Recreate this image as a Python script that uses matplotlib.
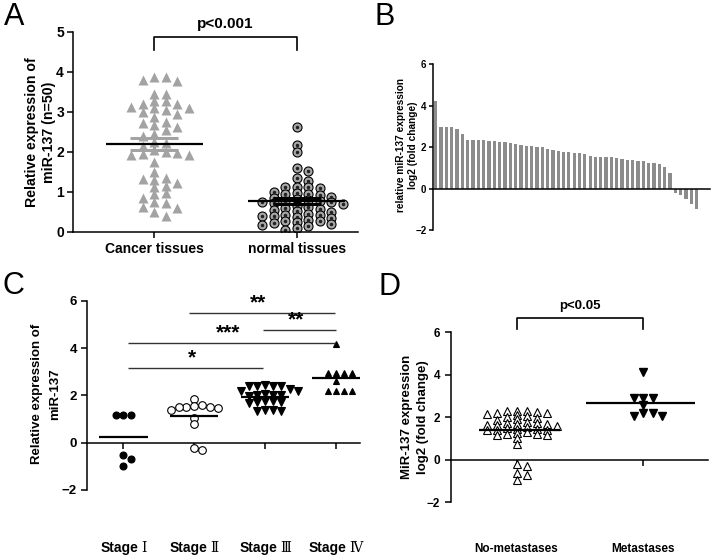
import numpy as np
import matplotlib
matplotlib.use('Agg')
import matplotlib.pyplot as plt
from matplotlib.offsetbox import TextArea, HPacker, AnnotationBbox

plt.rcParams['font.family'] = ['Liberation Sans', 'DejaVu Sans']

# ---------------- data ----------------
# A: relative expression, 50 pairs
cancer = [3.87, 3.87, 3.8, 3.78, 3.45, 3.45, 3.28, 3.27, 3.2, 3.2,
          3.12, 3.1, 3.1, 3.05, 3.0, 2.95, 2.88, 2.75, 2.72, 2.68,
          2.62, 2.55, 2.45, 2.4, 2.25, 2.22, 2.15, 2.05, 2.0, 1.98,
          1.95, 1.93, 1.92, 1.75, 1.5, 1.35, 1.33, 1.3, 1.22, 1.15,
          1.12, 0.97, 0.95, 0.85, 0.75, 0.72, 0.62, 0.6, 0.5, 0.4]
normal = [2.62, 2.17, 2.0, 1.6, 1.53, 1.35, 1.27, 1.13, 1.12, 1.1,
          1.12, 1.0, 0.97, 0.96, 0.95, 0.93, 0.88, 0.85, 0.82, 0.8,
          0.78, 0.78, 0.76, 0.75, 0.72, 0.7, 0.65, 0.62, 0.6, 0.58,
          0.55, 0.52, 0.5, 0.45, 0.42, 0.42, 0.4, 0.4, 0.38, 0.35,
          0.3, 0.28, 0.27, 0.25, 0.22, 0.2, 0.18, 0.15, 0.1, 0.05]
catA = ['Cancer tissues', 'normal tissues']

# B: log2 fold change per patient (sorted)
fold = [4.2, 2.95, 2.95, 2.95, 2.87, 2.62, 2.37, 2.37, 2.37, 2.37,
        2.3, 2.28, 2.25, 2.24, 2.2, 2.17, 2.12, 2.08, 2.08, 2.0,
        2.0, 1.92, 1.88, 1.8, 1.78, 1.75, 1.72, 1.7, 1.67, 1.6,
        1.55, 1.55, 1.55, 1.55, 1.48, 1.42, 1.4, 1.38, 1.35, 1.32,
        1.25, 1.22, 1.2, 1.07, 0.75, -0.18, -0.28, -0.5, -0.72, -0.95]

# C: by stage
stage1 = [1.19, 1.19, 1.19, -0.5, -0.71, -0.97]
stage2 = [1.83, 1.6, 1.55, 1.52, 1.52, 1.52, 1.45, 1.37, 1.06, 0.77, -0.21, -0.33]
stage3 = [2.42, 2.4, 2.4, 2.4, 2.38, 2.25, 2.2, 2.2, 2.05, 2.02, 2.0,
          2.0, 1.98, 1.78, 1.75, 1.72, 1.7, 1.68, 1.38, 1.37, 1.35, 1.33]
stage4 = [4.18, 2.94, 2.94, 2.94, 2.94, 2.62, 2.2, 2.2, 2.2, 2.2]
stage_num = ['Ⅰ', 'Ⅱ', 'Ⅲ', 'Ⅳ']
# (from, to, height, stars)
sigC = [(0.93, 2.98, 5.5, '**'), (1.97, 3.0, 4.75, '**'),
        (0.06, 2.99, 4.2, '***'), (0.06, 1.97, 3.15, '*')]

# D: metastasis
no_met = [2.32, 2.3, 2.3, 2.27, 2.22, 2.2, 2.17, 2.1, 2.05, 2.0,
          1.95, 1.9, 1.85, 1.8, 1.75, 1.72, 1.7, 1.68, 1.65, 1.62,
          1.6, 1.55, 1.5, 1.47, 1.45, 1.42, 1.4, 1.4, 1.3, 1.25,
          1.22, 1.2, 1.18, 1.15, 1.03, 0.74, -0.22, -0.31, -0.6, -0.73, -0.96]
met = [4.15, 2.91, 2.91, 2.91, 2.57, 2.2, 2.2, 2.06, 2.06]
catD = ['No-metastases', 'Metastases']


def swarm(vals, dx, dy):
    # simple column beeswarm, like prism scatter
    vals = np.asarray(vals, float)
    offs = np.zeros(len(vals))
    placed = []
    slots = [0]
    for k in range(1, 10):
        slots += [k, -k]
    for i in np.argsort(-vals, kind='stable'):
        for s in slots:
            if all(ps != s or abs(vals[i] - pv) >= dy for pv, ps in placed):
                break
        placed.append((vals[i], s))
        offs[i] = s * dx
    return offs


def style(ax, size):
    for s in ['top', 'right']:
        ax.spines[s].set_visible(False)
    for s in ['left', 'bottom']:
        ax.spines[s].set_linewidth(1.1)
    ax.tick_params(width=1.1, length=4, labelsize=size)
    for lb in ax.get_yticklabels() + ax.get_xticklabels():
        lb.set_fontweight('bold')


def vlabel(lines, xs, y, size):
    # rotated y label, one text per line
    for ln, x in zip(lines, xs):
        fig.text(x/W, 1-y/H, ln, rotation=90, ha='center', va='center',
                 fontsize=size, fontweight='bold')


W, H = 713., 558.
fig = plt.figure(figsize=(7.13, 5.58), dpi=100)

# ---------------- A ----------------
axA = fig.add_axes([73/W, 1-232/H, 285/W, 200/H])
x0 = swarm(cancer, 0.081, 0.17)
axA.plot(0 + x0, cancer, '^', color='#A3A3A3', ms=6.5, mec='none', ls='none')
x1 = swarm(normal, 0.081, 0.13)
axA.plot(1 + x1, normal, 'o', mfc='#A8A8A8', mec='black', mew=0.8, ms=6.5, ls='none')
axA.plot(1 + x1, normal, 'o', color='#222222', ms=1.5, ls='none')
for xc, v, c in [(0, cancer, '#A3A3A3'), (1, normal, 'black')]:
    m = np.mean(v)
    se = np.std(v, ddof=1) / np.sqrt(len(v))
    axA.hlines([m - se, m + se], xc - 0.17, xc + 0.17, color=c, lw=2.2, zorder=3)
    axA.vlines(xc, m - se, m + se, color=c, lw=2.2, zorder=3)
    axA.hlines(m, xc - 0.34, xc + 0.34, color='black', lw=1.6, zorder=4)
axA.plot([0, 0, 1, 1], [4.55, 4.875, 4.875, 4.55], color='black', lw=1.2, clip_on=False)
axA.text(0.5, 5.2, 'p<0.001', ha='center', va='center', fontsize=11, fontweight='bold')
axA.set_xlim(-0.57, 1.43)
axA.set_ylim(0, 5)
axA.set_yticks(range(6))
axA.set_xticks([0, 1])
axA.set_xticklabels(catA, fontsize=10)
style(axA, 10)
axA.tick_params(axis='y', pad=2.5)
vlabel(['Relative expression of', 'miR-137 (n=50)'], [32, 49], 132, 10.2)

# ---------------- B ----------------
axB = fig.add_axes([432.7/W, 1-230.5/H, 277.3/W, 166.5/H])
axB.bar(np.arange(1, len(fold) + 1), fold, width=0.62, color='#8C8C8C')
axB.spines['bottom'].set_position(('data', 0))
axB.set_xticks([])
axB.set_xlim(0.44, 52.5)
axB.set_ylim(-2, 6)
axB.set_yticks([-2, 0, 2, 4, 6])
style(axB, 7)
axB.tick_params(length=3, pad=1.5)
vlabel(['relative miR-137 expression', 'log2 (fold change)'], [401, 413], 145, 7.3)

# ---------------- C ----------------
axC = fig.add_axes([87.3/W, 1-490/H, 272.7/W, 189.3/H])
specs = [(stage1, 'o', 'black', 'black', 5.0, 0.11),
         (stage2, 'o', 'white', 'black', 5.5, 0.11),
         (stage3, 'v', 'black', 'black', 5.5, 0.115),
         (stage4, '^', 'black', 'black', 5.0, 0.115)]
for i, (v, mk, fc, ec, ms, dx) in enumerate(specs):
    xo = swarm(v, dx, 0.26)
    axC.plot(i + xo, v, mk, mfc=fc, mec=ec, mew=0.8, ms=ms, ls='none', zorder=2)
    axC.hlines(np.mean(v), i - 0.34, i + 0.34, color='black', lw=1.6, zorder=3)
for a, b, yy, st in sigC:
    axC.hlines(yy, a, b, color='#333333', lw=1.0)
    axC.text((a + b) / 2 - 0.05, yy + 0.02, st, ha='center', va='bottom', fontsize=15, fontweight='bold')
axC.spines['bottom'].set_position(('data', 0))
axC.set_xlim(-0.51, 3.34)
axC.set_ylim(-2, 6)
axC.set_yticks([-2, 0, 2, 4, 6])
axC.set_xticks(range(4))
axC.set_xticklabels([])
style(axC, 9.5)
for i, num in enumerate(stage_num):
    box = HPacker(children=[TextArea('Stage', textprops=dict(fontsize=10, fontweight='bold',
                                                             family='Liberation Sans')),
                            TextArea(num, textprops=dict(fontsize=10, family='DejaVu Serif'))],
                  sep=2, align='baseline', pad=0)
    axC.add_artist(AnnotationBbox(box, (i, -0.306), xycoords=axC.get_xaxis_transform(),
                                  frameon=False, box_alignment=(0.5, 0.5), annotation_clip=False))
vlabel(['Relative expression of', 'miR-137'], [37, 55], 394, 9.5)

# ---------------- D ----------------
axD = fig.add_axes([450.7/W, 1-502.3/H, 257.3/W, 170/H])
xo = swarm(no_met, 0.079, 0.2)
axD.plot(0 + xo, no_met, '^', mfc='white', mec='black', mew=0.8, ms=6, ls='none', zorder=2)
xo = swarm(met, 0.075, 0.3)
axD.plot(1 + xo, met, 'v', color='black', ms=5.5, ls='none', zorder=2)
axD.hlines(np.mean(no_met), -0.3, 0.34, color='black', lw=1.6, zorder=3)
axD.hlines(np.mean(met), 1 - 0.45, 1 + 0.41, color='black', lw=1.6, zorder=3)
axD.plot([0, 0, 1, 1], [6.17, 6.68, 6.68, 6.17], color='black', lw=1.2, clip_on=False)
axD.text(0.5, 7.26, 'p<0.05', ha='center', va='center', fontsize=9.5, fontweight='bold')
axD.spines['bottom'].set_position(('data', 0))
axD.set_xlim(-0.52, 1.51)
axD.set_ylim(-2, 6)
axD.set_yticks([-2, 0, 2, 4, 6])
axD.set_xticks([0, 1])
axD.set_xticklabels([])
style(axD, 8.5)
for i, lab in enumerate(catD):
    axD.text(i, -0.275, lab, transform=axD.get_xaxis_transform(), ha='center', va='center',
             fontsize=8.5, fontweight='bold')
vlabel(['MiR-137 expression', 'log2 (fold change)'], [407, 423], 417, 9.5)

# panel letters
for lab, px, py in [('A', 4, 2), ('B', 374, 2), ('C', 3, 271), ('D', 378, 272)]:
    fig.text(px/W, 1-py/H, lab, ha='left', va='top', fontsize=22)

fig.savefig('out.png', dpi=100)
